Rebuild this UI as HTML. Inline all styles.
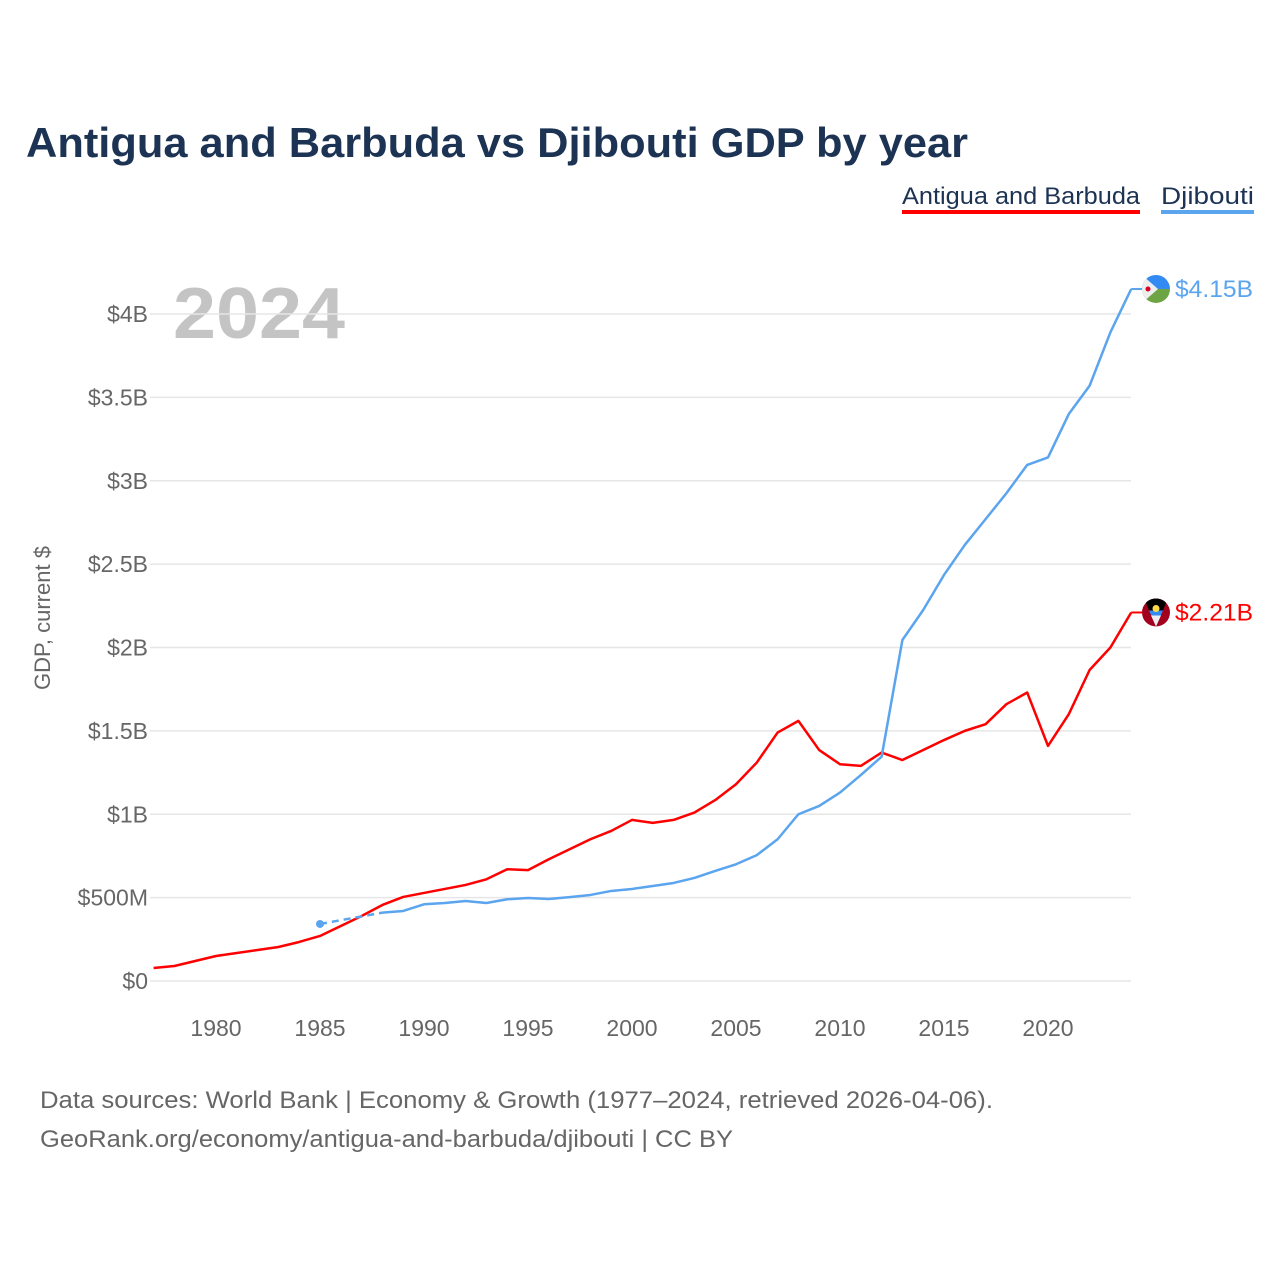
<!DOCTYPE html>
<html><head><meta charset="utf-8"><style>
body{margin:0;background:#fff;font-family:"Liberation Sans",sans-serif}
svg text{font-family:"Liberation Sans",sans-serif}
</style></head><body>
<svg id="c" width="1280" height="1280">
<text x="26" y="157" font-size="42" font-weight="bold" fill="#1c3354" textLength="942" lengthAdjust="spacingAndGlyphs">Antigua and Barbuda vs Djibouti GDP by year</text>
<g>
<text x="902" y="204" font-size="24" fill="#1c3354" textLength="238" lengthAdjust="spacingAndGlyphs">Antigua and Barbuda</text>
<rect x="902" y="210" width="238" height="4" fill="#ff0000"/>
<text x="1161" y="204" font-size="24" fill="#1c3354" textLength="93" lengthAdjust="spacingAndGlyphs">Djibouti</text>
<rect x="1161" y="210" width="93" height="4" fill="#5ba4ee"/>
</g>
<text x="173" y="338" font-size="72" font-weight="bold" fill="#c4c4c4" textLength="172" lengthAdjust="spacingAndGlyphs">2024</text>
<text transform="translate(50,618) rotate(-90)" text-anchor="middle" font-size="22" fill="#666">GDP, current $</text>
<g id="grid"></g><g id="series"></g>
<text x="40" y="1108" font-size="24" fill="#666" textLength="953" lengthAdjust="spacingAndGlyphs">Data sources: World Bank | Economy &amp; Growth (1977–2024, retrieved 2026-04-06).</text>
<text x="40" y="1147" font-size="24" fill="#666" textLength="693" lengthAdjust="spacingAndGlyphs">GeoRank.org/economy/antigua-and-barbuda/djibouti | CC BY</text>
</svg>
<script>
const years=[];for(let y=1977;y<=2024;y++)years.push(y);
const antigua=[0.078,0.09,0.12,0.15,0.168,0.186,0.204,0.234,0.27,0.33,0.39,0.456,0.504,0.528,0.552,0.576,0.61,0.67,0.665,0.73,0.79,0.85,0.9,0.966,0.948,0.966,1.01,1.085,1.18,1.31,1.49,1.56,1.385,1.3,1.29,1.37,1.325,1.385,1.445,1.5,1.54,1.66,1.73,1.41,1.6,1.865,2.0,2.21];
const djYears=[1985,1988,1989,1990,1991,1992,1993,1994,1995,1996,1997,1998,1999,2000,2001,2002,2003,2004,2005,2006,2007,2008,2009,2010,2011,2012,2013,2014,2015,2016,2017,2018,2019,2020,2021,2022,2023,2024];
const djibouti=[0.342,0.41,0.42,0.46,0.468,0.48,0.468,0.49,0.498,0.492,0.503,0.516,0.54,0.552,0.57,0.588,0.618,0.66,0.70,0.755,0.85,1.0,1.05,1.13,1.235,1.345,2.045,2.225,2.435,2.615,2.77,2.925,3.095,3.14,3.40,3.57,3.89,4.15];
const yTicks=[0,0.5,1,1.5,2,2.5,3,3.5,4];
const yLabels=["$0","$500M","$1B","$1.5B","$2B","$2.5B","$3B","$3.5B","$4B"];
const xTicks=[1980,1985,1990,1995,2000,2005,2010,2015,2020];
const NS="http://www.w3.org/2000/svg";
const X=y=>153.6+(y-1977)*20.8, Y=v=>981-v*166.75;
function el(t,a,p){const e=document.createElementNS(NS,t);for(const k in a)e.setAttribute(k,a[k]);p.appendChild(e);return e;}
const g=document.getElementById('grid'),s=document.getElementById('series');
yTicks.forEach((v,i)=>{
 const l=el('line',{x1:150,x2:1131,y1:Y(v),y2:Y(v),stroke:'#e6e6e6','stroke-width':1.5},g);
 
 
 const t=el('text',{x:148,y:Y(v)+8,'text-anchor':'end','font-size':23,fill:'#666'},g);t.textContent=yLabels[i];
 
 
});
xTicks.forEach(v=>{
 const t=el('text',{x:X(v),y:1036,'text-anchor':'middle','font-size':23,fill:'#666'},g);t.textContent=v;
 
 
});
const pa=el('polyline',{points:years.map((y,i)=>X(y)+','+Y(antigua[i])).join(' '),fill:'none',stroke:'#ff0000','stroke-width':2.5,'stroke-linejoin':'round'},s);


const dd=el('polyline',{points:X(djYears[0])+','+Y(djibouti[0])+' '+X(djYears[1])+','+Y(djibouti[1]),fill:'none',stroke:'#5ba4ee','stroke-width':2.5,'stroke-dasharray':'7,5'},s);


const dp=el('circle',{cx:X(djYears[0]),cy:Y(djibouti[0]),r:4,fill:'#5ba4ee'},s);


const pd=el('polyline',{points:djYears.slice(1).map((y,i)=>X(y)+','+Y(djibouti[i+1])).join(' '),fill:'none',stroke:'#5ba4ee','stroke-width':2.5,'stroke-linejoin':'round'},s);


function endLabel(v,col,txt,name,flag){
 const y=Y(v);
 el('line',{x1:X(2024),x2:1142,y1:y,y2:y,stroke:col,'stroke-width':2},s);
 const f=el('g',{},s);f.innerHTML=flag(1156,y);
 
 
 const t=el('text',{x:1175,y:y+8,'font-size':24,fill:col,textLength:78,lengthAdjust:'spacingAndGlyphs'},s);t.textContent=txt;
 
 
}
endLabel(djibouti[djibouti.length-1],'#5ba4ee','$4.15B','djibouti',(x,y)=>`<clipPath id="cd"><circle cx="${x}" cy="${y}" r="14"/></clipPath><g clip-path="url(#cd)"><rect x="${x-14}" y="${y-14}" width="28" height="14" fill="#338af3"/><rect x="${x-14}" y="${y}" width="28" height="14" fill="#6da544"/><polygon points="${x-14},${y-14} ${x+2},${y} ${x-14},${y+14}" fill="#eee"/><circle cx="${x-8}" cy="${y}" r="2.5" fill="#d80027"/></g>`);
endLabel(antigua[antigua.length-1],'#ff0000','$2.21B','antigua',(x,y)=>`<clipPath id="ca"><circle cx="${x}" cy="${y}" r="14"/></clipPath><g clip-path="url(#ca)"><rect x="${x-14}" y="${y-14}" width="28" height="28" fill="#a2001d"/><polygon points="${x-12},${y-14} ${x+12},${y-14} ${x},${y+14}" fill="#000"/><polygon points="${x-7},${y-2} ${x+7},${y-2} ${x},${y+14}" fill="#338af3"/><polygon points="${x-5},${y+3} ${x+5},${y+3} ${x},${y+14}" fill="#eee"/><circle cx="${x}" cy="${y-4}" r="3.5" fill="#ffda44"/></g>`);
</script>
</body></html>
